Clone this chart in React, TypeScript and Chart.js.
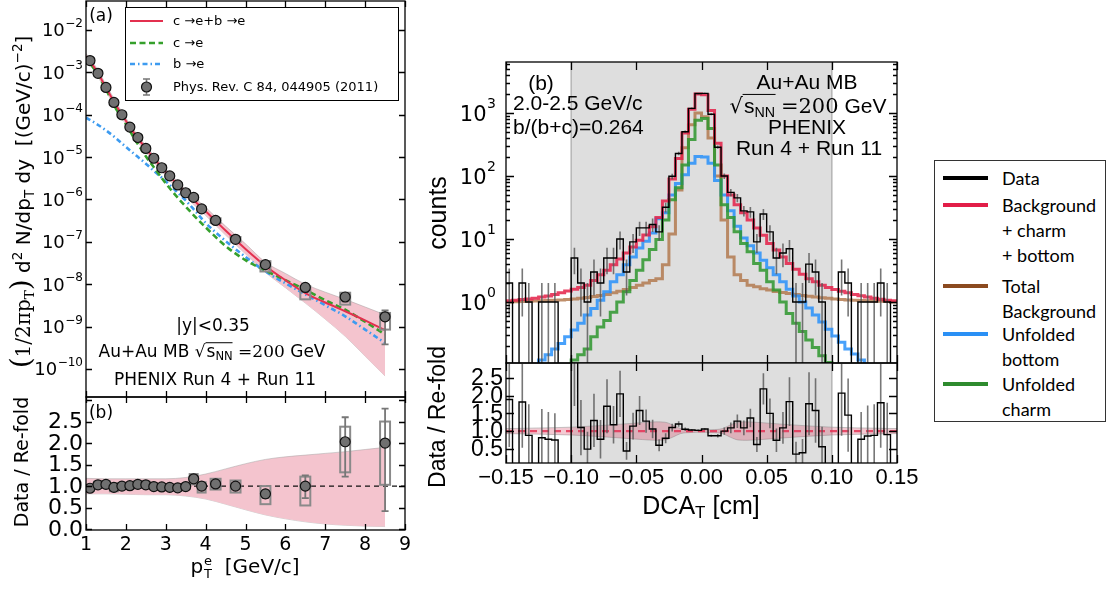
import React, { useEffect, useRef } from 'react';
import { Chart, registerables } from 'chart.js';

Chart.register(...registerables);

const W = 1108;
const H = 590;
const ARIAL = "'Liberation Sans', Arial, Helvetica, sans-serif";
const DEJAVU = "'DejaVu Sans', Verdana, sans-serif";
const DSERIF = "'DejaVu Serif', Georgia, serif";
const LEGEND_FONT = "Lato, 'Open Sans', sans-serif";

// ---------------- Panel (a): heavy-flavour electron yield vs pT ----------------
const PT_CURVE = [1.0, 1.25, 1.5, 1.75, 2.0, 2.25, 2.5, 2.75, 3.0, 3.25, 3.5, 3.75, 4.0, 4.5, 5.0, 5.5, 6.0, 6.5, 7.0, 7.5, 8.0, 8.5];
const CB_TO_E = [2.4e-3, 1.15e-3, 4.4e-4, 1.7e-4, 7.2e-5, 3.2e-5, 1.6e-5, 8.3e-6, 4.5e-6, 2.5e-6, 1.45e-6, 8.7e-7, 5.3e-7, 1.85e-7, 6.8e-8, 2.7e-8, 1.25e-8, 6.2e-9, 3.7e-9, 2.3e-9, 1.4e-9, 8.3e-10];
const C_TO_E = [2.2e-3, 1.05e-3, 4.0e-4, 1.4e-4, 6.0e-5, 2.4e-5, 1.05e-5, 5.0e-6, 2.4e-6, 1.25e-6, 6.8e-7, 3.8e-7, 2.2e-7, 8.0e-8, 3.7e-8, 2.1e-8, 1.25e-8, 7.4e-9, 4.2e-9, 2.5e-9, 1.3e-9, 6.5e-10];
const B_TO_E = [8.5e-5, 6.2e-5, 4.3e-5, 2.8e-5, 1.75e-5, 1.1e-5, 7.0e-6, 4.3e-6, 2.7e-6, 1.6e-6, 9.5e-7, 5.2e-7, 2.8e-7, 1.05e-7, 4.4e-8, 2.0e-8, 1.05e-8, 5.8e-9, 3.2e-9, 1.75e-9, 8.5e-10, 4.1e-10];
const CB_BAND_HI = [2.8e-3, 1.35e-3, 5.2e-4, 2.0e-4, 8.4e-5, 3.75e-5, 1.87e-5, 9.7e-6, 5.3e-6, 2.95e-6, 1.72e-6, 1.05e-6, 6.5e-7, 2.35e-7, 9.0e-8, 3.3e-8, 1.8e-8, 1.0e-8, 6.5e-9, 4.4e-9, 2.9e-9, 1.9e-9];
const CB_BAND_LO = [1.95e-3, 9.5e-4, 3.6e-4, 1.4e-4, 5.9e-5, 2.6e-5, 1.3e-5, 6.7e-6, 3.6e-6, 2.0e-6, 1.15e-6, 6.9e-7, 4.2e-7, 1.45e-7, 5.2e-8, 1.9e-8, 8.3e-9, 3.6e-9, 1.5e-9, 5.9e-10, 2.0e-10, 6.8e-11];

const PT_DATA = [1.1, 1.3, 1.5, 1.7, 1.9, 2.1, 2.3, 2.5, 2.7, 2.9, 3.1, 3.3, 3.5, 3.7, 3.9, 4.25, 4.75, 5.5, 6.5, 7.5, 8.5];
const YIELD = [1.9e-3, 9.5e-4, 4.4e-4, 1.95e-4, 1.0e-4, 5.1e-5, 2.9e-5, 1.6e-5, 9.4e-6, 5.6e-6, 3.6e-6, 2.2e-6, 1.44e-6, 1.12e-6, 6.0e-7, 3.2e-7, 1.15e-7, 2.9e-8, 8.4e-9, 5.0e-9, 1.7e-9];
const YIELD_STAT_LO = [1.85e-3, 9.2e-4, 4.25e-4, 1.88e-4, 9.6e-5, 4.9e-5, 2.78e-5, 1.53e-5, 8.9e-6, 5.3e-6, 3.4e-6, 2.07e-6, 1.35e-6, 1.04e-6, 5.5e-7, 2.95e-7, 1.03e-7, 2.45e-8, 6.5e-9, 3.9e-9, 3.8e-10];
const YIELD_STAT_HI = [1.95e-3, 9.8e-4, 4.55e-4, 2.02e-4, 1.04e-4, 5.3e-5, 3.02e-5, 1.67e-5, 9.9e-6, 5.9e-6, 3.8e-6, 2.33e-6, 1.53e-6, 1.2e-6, 6.5e-7, 3.45e-7, 1.27e-7, 3.35e-8, 1.02e-8, 6.1e-9, 2.4e-9];
const YIELD_SYS_LO = [1.67e-3, 8.4e-4, 3.9e-4, 1.72e-4, 8.8e-5, 4.5e-5, 2.55e-5, 1.41e-5, 8.3e-6, 4.9e-6, 3.2e-6, 1.94e-6, 1.27e-6, 9.9e-7, 5.3e-7, 2.8e-7, 1.0e-7, 2.0e-8, 4.4e-9, 3.3e-9, 8.5e-10];
const YIELD_SYS_HI = [2.13e-3, 1.06e-3, 4.9e-4, 2.18e-4, 1.12e-4, 5.7e-5, 3.25e-5, 1.79e-5, 1.05e-5, 6.3e-6, 4.0e-6, 2.46e-6, 1.61e-6, 1.25e-6, 6.7e-7, 3.6e-7, 1.3e-7, 3.5e-8, 8.9e-9, 6.3e-9, 2.1e-9];

// ---------------- Panel (a)-(b): Data / Re-fold vs pT ----------------
const RATIO_PT = [0.95, 1.03, 1.04, 0.97, 1.0, 1.01, 1.04, 1.03, 0.99, 0.98, 0.97, 0.96, 0.99, 1.17, 1.0, 1.05, 1.0, 0.82, 1.0, 2.03, 2.0];
const RATIO_PT_STAT_LO = [0.92, 1.0, 1.01, 0.94, 0.97, 0.98, 1.01, 1.0, 0.96, 0.95, 0.94, 0.93, 0.96, 1.13, 0.96, 1.0, 0.95, 0.72, 0.72, 1.22, 0.42];
const RATIO_PT_STAT_HI = [0.98, 1.06, 1.07, 1.0, 1.03, 1.04, 1.07, 1.06, 1.02, 1.01, 1.0, 0.99, 1.02, 1.21, 1.04, 1.1, 1.05, 0.9, 1.25, 2.6, 2.8];
const RATIO_PT_SYS_LO = [0.89, 0.96, 0.97, 0.88, 0.93, 0.94, 0.97, 0.96, 0.93, 0.92, 0.91, 0.9, 0.93, 1.04, 0.85, 0.92, 0.85, 0.58, 0.55, 1.32, 1.03];
const RATIO_PT_SYS_HI = [1.01, 1.1, 1.11, 1.06, 1.07, 1.08, 1.11, 1.1, 1.05, 1.04, 1.03, 1.02, 1.05, 1.28, 1.09, 1.17, 1.13, 1.0, 1.22, 2.38, 2.5];
const PT_RBAND = [1.0, 1.5, 2.0, 2.5, 3.0, 3.5, 4.0, 4.5, 5.0, 5.5, 6.0, 6.5, 7.0, 7.5, 8.0, 8.5];
const RBAND_HI = [1.18, 1.17, 1.17, 1.17, 1.17, 1.2, 1.28, 1.4, 1.52, 1.62, 1.68, 1.72, 1.76, 1.8, 1.85, 1.9];
const RBAND_LO = [0.82, 0.82, 0.81, 0.8, 0.8, 0.77, 0.7, 0.58, 0.45, 0.33, 0.24, 0.17, 0.12, 0.09, 0.07, 0.06];
const RATIO_REF = 1.0;

// ---------------- Panel (b): DCA_T distribution, 0.005 cm bins from -0.15 ----------------
const DCA_LOW = -0.15;
const DCA_BIN = 0.005;
const DATA_COUNTS = [2, 0, 2, 1, 0, 1, 1, 1, 0, 0, 5, 2, 1, 3, 2, 5, 5, 10, 3, 9, 15, 15, 17, 13, 32, 99, 228, 504, 1185, 2040, 2050, 957, 287, 100, 55, 45, 28, 27, 9, 25, 13, 5, 6, 7, 1, 1, 4, 3, 1, 0, 0, 3, 2, 0, 1, 1, 1, 2, 1, 0];
const DATA_ERR = [1.41, 0, 1.41, 1, 0, 1, 1, 1, 0, 0, 2.24, 1.41, 1, 1.73, 1.41, 2.24, 2.24, 3.16, 1.73, 3, 3.87, 3.87, 4.12, 3.61, 5.66, 9.95, 15.1, 22.4, 34.4, 45.2, 45.3, 30.9, 16.9, 10, 7.42, 6.71, 5.29, 5.2, 3, 5, 3.61, 2.24, 2.45, 2.65, 1, 1, 2, 1.73, 1, 0, 0, 1.73, 1.41, 0, 1, 1, 1, 1.41, 1, 0];
const FIT_TOTAL = [1.05, 1.07, 1.1, 1.12, 1.15, 1.2, 1.25, 1.32, 1.4, 1.5, 1.6, 1.7, 1.85, 2.2, 2.7, 3.2, 3.9, 4.8, 6.0, 7.5, 9.6, 11.6, 15.7, 22, 40, 90, 190, 480, 1150, 2000, 1950, 1100, 330, 100, 50, 35, 26, 20, 15, 11.5, 8.5, 6.7, 5.2, 4.1, 3.3, 2.75, 2.35, 2.1, 1.85, 1.7, 1.58, 1.48, 1.4, 1.32, 1.26, 1.2, 1.15, 1.11, 1.07, 1.05];
const BKG_TOTAL = [1.0, 1.01, 1.02, 1.03, 1.04, 1.05, 1.06, 1.07, 1.08, 1.1, 1.12, 1.15, 1.18, 1.22, 1.27, 1.32, 1.4, 1.48, 1.58, 1.7, 1.85, 2.0, 2.2, 2.35, 3.9, 12, 60, 280, 650, 1000, 870, 400, 100, 20, 5.2, 2.7, 2.2, 1.85, 1.75, 1.62, 1.55, 1.47, 1.42, 1.37, 1.32, 1.27, 1.23, 1.2, 1.17, 1.15, 1.12, 1.1, 1.08, 1.07, 1.06, 1.05, 1.04, 1.03, 1.02, 1.0];
const BOTTOM_UNF = [0.05, 0.05, 0.05, 0.05, 0.1, 0.12, 0.145, 0.18, 0.22, 0.28, 0.36, 0.46, 0.62, 0.79, 1.07, 1.45, 2.1, 2.7, 3.9, 5.2, 7.2, 9.2, 12.5, 21, 26, 50, 76, 105, 160, 205, 200, 160, 85, 50, 28, 16, 10.4, 7.8, 6.0, 4.6, 3.5, 2.7, 2.1, 1.6, 1.25, 1.0, 0.8, 0.62, 0.48, 0.37, 0.29, 0.23, 0.18, 0.15, 0.12, 0.1, 0.05, 0.05, 0.05, 0.05];
const CHARM_UNF = [0.05, 0.05, 0.05, 0.05, 0.05, 0.05, 0.05, 0.05, 0.05, 0.05, 0.12, 0.145, 0.18, 0.28, 0.4, 0.51, 0.69, 1.0, 1.45, 2.2, 3.2, 4.7, 6.8, 9.8, 20, 42, 65, 150, 380, 770, 820, 570, 150, 35, 22, 13, 8.5, 6.3, 4.1, 3.2, 2.1, 1.55, 1.0, 0.66, 0.46, 0.34, 0.25, 0.19, 0.14, 0.11, 0.05, 0.05, 0.05, 0.05, 0.05, 0.05, 0.05, 0.05, 0.05, 0.05];
const RATIO_DCA = [1.89, 0, 1.82, 0.88, 0, 0.81, 0.77, 0.75, 0, 0, 3.1, 1.1, 0.49, 1.3, 0.77, 1.7, 1.18, 2.05, 0.44, 1.14, 1.58, 1.28, 1.06, 0.6, 0.8, 1.1, 1.2, 1.05, 1.03, 1.02, 1.06, 0.87, 0.87, 1.0, 1.09, 1.28, 1.09, 1.37, 0.62, 2.19, 1.5, 0.74, 1.09, 1.83, 0.35, 0.39, 1.77, 1.58, 0.56, 0, 0, 2.07, 1.45, 0, 0.77, 0.86, 0.88, 1.8, 0.9, 0];
const RATIO_DCA_ERR = [1.34, 0, 1.29, 0.88, 0, 0.81, 0.77, 0.75, 0, 0, 1.39, 0.78, 0.49, 0.75, 0.54, 0.76, 0.53, 0.65, 0.25, 0.38, 0.41, 0.33, 0.26, 0.17, 0.14, 0.11, 0.08, 0.05, 0.03, 0.023, 0.023, 0.028, 0.051, 0.1, 0.15, 0.19, 0.21, 0.26, 0.21, 0.44, 0.42, 0.33, 0.45, 0.69, 0.35, 0.39, 0.89, 0.91, 0.56, 0, 0, 1.2, 1.03, 0, 0.77, 0.86, 0.88, 1.27, 0.9, 0];
const RB_X = [-0.15, -0.12, -0.1, -0.08, -0.06, -0.045, -0.035, -0.028, -0.022, -0.016, -0.008, 0, 0.008, 0.016, 0.022, 0.028, 0.035, 0.045, 0.06, 0.08, 0.1, 0.12, 0.15];
const RB_HI = [1.07, 1.09, 1.11, 1.15, 1.2, 1.24, 1.26, 1.25, 1.17, 1.07, 1.04, 1.03, 1.04, 1.07, 1.17, 1.25, 1.26, 1.24, 1.2, 1.15, 1.11, 1.09, 1.07];
const RB_LO = [0.93, 0.91, 0.89, 0.85, 0.8, 0.76, 0.74, 0.75, 0.83, 0.93, 0.96, 0.97, 0.96, 0.93, 0.83, 0.75, 0.74, 0.76, 0.8, 0.85, 0.89, 0.91, 0.93];
const SHADE_RANGE = [-0.1, 0.1];

// ---------------- ticks ----------------
const LEFT_X_TICKS = [1, 2, 3, 4, 5, 6, 7, 8, 9];
const LEFT_Y_EXP = [-10, -9, -8, -7, -6, -5, -4, -3, -2];
const LEFT_RATIO_TICKS = [0, 0.5, 1.0, 1.5, 2.0, 2.5, 3.0];
const LEFT_RATIO_LABELS = ['0.0', '0.5', '1.0', '1.5', '2.0', '2.5'];
const DCA_TICKS = [-0.15, -0.1, -0.05, 0, 0.05, 0.1, 0.15];
const DCA_TICK_LABELS = ['\u22120.15', '\u22120.10', '\u22120.05', '0.00', '0.05', '0.10', '0.15'];
const COUNT_EXP = [0, 1, 2, 3];
const DCA_RATIO_TICKS = [0.5, 1.0, 1.5, 2.0, 2.5];
const DCA_RATIO_LABELS = ['0.5', '1.0', '1.5', '2.0', '2.5'];

// ---------------- styles ----------------
const COL = {
  cb: '#e3304f',
  c: '#35a02c',
  b: '#3d9bf0',
  marker: '#707070',
  fit: 'rgba(228,32,72,0.85)',
  charm: 'rgba(46,150,46,0.85)',
  bottom: 'rgba(40,145,250,0.85)',
  bkg: 'rgba(175,115,70,0.8)',
};
const AREA_LT = { L: 86, T: 1, R: 405, B: 397 };
const AREA_LB = { L: 86, T: 397, R: 405, B: 530 };
const AREA_RT = { L: 506, T: 62, R: 897, B: 363 };
const AREA_RB = { L: 506, T: 363, R: 897, B: 463 };

const pts = (xs: number[], ys: number[]) => xs.map((x, i) => ({ x, y: ys[i] }));
const DCA_EDGES = Array.from({ length: DATA_COUNTS.length + 1 }, (_, i) => DCA_LOW + i * DCA_BIN);
const DCA_CENTERS = DATA_COUNTS.map((_, i) => DCA_LOW + (i + 0.5) * DCA_BIN);
const steps = (vals: number[], floor: number) => {
  const v = vals.map((y) => (y > 0 ? y : floor));
  return [...v.map((y, i) => ({ x: DCA_EDGES[i], y })), { x: DCA_EDGES[v.length], y: v[v.length - 1] }];
};
const SYS_HALF = (pt: number) => (pt < 4 ? 0.1 : 0.125);

function baseOptions(area: any, x: any, y: any) {
  return {
    animation: false,
    responsive: false,
    devicePixelRatio: 1,
    events: [],
    layout: { autoPadding: false, padding: { left: area.L, top: area.T, right: W - area.R, bottom: H - area.B } },
    plugins: { legend: { display: false }, tooltip: { enabled: false } },
    elements: { point: { radius: 0 }, line: { tension: 0 } },
    scales: {
      x: { display: false, bounds: 'data', ...x },
      y: { display: false, bounds: 'data', ...y },
    },
  };
}

function yPix(scale: any, v: number, a: any) {
  if (scale.type === 'logarithmic' && v <= 0) return a.bottom + 20;
  return scale.getPixelForValue(v);
}

function clipArea(ctx: any, a: any) {
  ctx.beginPath();
  ctx.rect(a.left, a.top, a.right - a.left, a.bottom - a.top);
  ctx.clip();
}

function errorBars(id: string, dsIndex: number, bars: any[], color: string, width: number, cap: number) {
  return {
    id,
    beforeDatasetDraw(chart: any, args: any) {
      if (args.index !== dsIndex) return;
      const { ctx, chartArea: a } = chart;
      const xs = chart.scales.x, ys = chart.scales.y;
      ctx.save();
      clipArea(ctx, a);
      ctx.strokeStyle = color;
      ctx.lineWidth = width;
      ctx.beginPath();
      for (const b of bars) {
        if (b.hi === b.lo) continue;
        const px = xs.getPixelForValue(b.x);
        const p1 = yPix(ys, b.lo, a);
        const p2 = yPix(ys, b.hi, a);
        ctx.moveTo(px, p1);
        ctx.lineTo(px, p2);
        if (cap) {
          ctx.moveTo(px - cap, p1); ctx.lineTo(px + cap, p1);
          ctx.moveTo(px - cap, p2); ctx.lineTo(px + cap, p2);
        }
      }
      ctx.stroke();
      ctx.restore();
    },
  };
}

function sysBoxes(id: string, dsIndex: number, boxes: any[], color: string, width: number) {
  return {
    id,
    beforeDatasetDraw(chart: any, args: any) {
      if (args.index !== dsIndex) return;
      const { ctx, chartArea: a } = chart;
      const xs = chart.scales.x, ys = chart.scales.y;
      ctx.save();
      clipArea(ctx, a);
      ctx.strokeStyle = color;
      ctx.lineWidth = width;
      for (const b of boxes) {
        const x0 = xs.getPixelForValue(b.x0), x1 = xs.getPixelForValue(b.x1);
        const y0 = ys.getPixelForValue(b.hi), y1 = ys.getPixelForValue(b.lo);
        ctx.strokeRect(x0, y0, x1 - x0, y1 - y0);
      }
      ctx.restore();
    },
  };
}

function shadePlugin(id: string) {
  return {
    id,
    beforeDatasetsDraw(chart: any) {
      const { ctx, chartArea: a } = chart;
      const xs = chart.scales.x;
      const x0 = xs.getPixelForValue(SHADE_RANGE[0]);
      const x1 = xs.getPixelForValue(SHADE_RANGE[1]);
      ctx.save();
      ctx.fillStyle = '#dedede';
      ctx.fillRect(x0, a.top, x1 - x0, a.bottom - a.top);
      ctx.strokeStyle = 'rgba(175,175,175,0.9)';
      ctx.lineWidth = 1.5;
      ctx.beginPath();
      ctx.moveTo(x0, a.top); ctx.lineTo(x0, a.bottom);
      ctx.moveTo(x1, a.top); ctx.lineTo(x1, a.bottom);
      ctx.stroke();
      ctx.restore();
    },
  };
}

function framePlugin(o: any) {
  return {
    id: o.id,
    afterDraw(chart: any) {
      const { ctx, chartArea: a } = chart;
      const xs = chart.scales.x, ys = chart.scales.y;
      ctx.save();
      ctx.strokeStyle = '#000';
      ctx.lineWidth = o.lw;
      ctx.beginPath();
      const tick = (vals: number[], len: number, axis: string) => {
        for (const v of vals) {
          if (axis === 'x') {
            if (v < xs.min - 1e-9 || v > xs.max + 1e-9) continue;
            const p = Math.round(xs.getPixelForValue(v)) + 0.5;
            ctx.moveTo(p, a.bottom); ctx.lineTo(p, a.bottom - len);
            ctx.moveTo(p, a.top); ctx.lineTo(p, a.top + len);
          } else {
            if (v < ys.min || v > ys.max) continue;
            const p = Math.round(ys.getPixelForValue(v)) + 0.5;
            ctx.moveTo(a.left, p); ctx.lineTo(a.left + len, p);
            ctx.moveTo(a.right, p); ctx.lineTo(a.right - len, p);
          }
        }
      };
      tick(o.xMajor, o.major, 'x');
      tick(o.yMajor, o.major, 'y');
      if (o.yMinor) tick(o.yMinor, o.minor, 'y');
      ctx.stroke();
      ctx.strokeRect(a.left, a.top, a.right - a.left, a.bottom - a.top);
      ctx.fillStyle = '#000';
      if (o.xLabels) {
        ctx.font = o.xLabels.font;
        ctx.textAlign = 'center';
        ctx.textBaseline = 'middle';
        o.xLabels.values.forEach((v: number, i: number) => ctx.fillText(o.xLabels.text[i], xs.getPixelForValue(v), o.xLabels.y));
      }
      if (o.yLabels) {
        ctx.font = o.yLabels.font;
        ctx.textAlign = 'right';
        ctx.textBaseline = 'middle';
        o.yLabels.values.forEach((v: number, i: number) => ctx.fillText(o.yLabels.text[i], o.yLabels.x, ys.getPixelForValue(v) + 1));
      }
      if (o.pow) {
        const p = o.pow;
        ctx.textAlign = 'right';
        ctx.textBaseline = 'alphabetic';
        for (const e of p.exps) {
          const py = ys.getPixelForValue(Math.pow(10, e));
          const es = e < 0 ? '\u2212' + Math.abs(e) : String(e);
          ctx.font = p.expFont;
          const ew = ctx.measureText(es).width;
          ctx.fillText(es, p.x, py + p.expDy);
          ctx.font = p.baseFont;
          ctx.fillText('10', p.x - ew - 0.5, py + p.baseDy);
        }
      }
      ctx.restore();
    },
  };
}

const yieldLegend = {
  id: 'yieldLegend',
  afterDatasetsDraw(chart: any) {
    const ctx = chart.ctx;
    ctx.save();
    ctx.fillStyle = '#fff';
    ctx.fillRect(125, 7, 273, 93);
    ctx.strokeStyle = '#000';
    ctx.lineWidth = 1;
    ctx.strokeRect(125.5, 7.5, 273, 93);
    const line = (y: number, color: string, w: number, dash: number[]) => {
      ctx.beginPath();
      ctx.setLineDash(dash);
      ctx.strokeStyle = color;
      ctx.lineWidth = w;
      ctx.moveTo(130, y);
      ctx.lineTo(163, y);
      ctx.stroke();
      ctx.setLineDash([]);
    };
    line(21, COL.cb, 2, []);
    line(43, COL.c, 2.6, [6, 3.5]);
    line(64, COL.b, 2.6, [5, 3, 1.5, 3]);
    ctx.strokeStyle = '#777';
    ctx.lineWidth = 1.6;
    ctx.beginPath();
    ctx.moveTo(146.5, 79); ctx.lineTo(146.5, 95);
    ctx.moveTo(143, 79); ctx.lineTo(150, 79);
    ctx.moveTo(143, 95); ctx.lineTo(150, 95);
    ctx.stroke();
    ctx.beginPath();
    ctx.arc(146.5, 87, 5, 0, Math.PI * 2);
    ctx.fillStyle = COL.marker;
    ctx.fill();
    ctx.strokeStyle = '#111';
    ctx.lineWidth = 1.2;
    ctx.stroke();
    ctx.fillStyle = '#000';
    ctx.font = `13px ${DEJAVU}`;
    ctx.textAlign = 'left';
    ctx.textBaseline = 'middle';
    ctx.fillText('c \u2192e+b \u2192e', 173, 22);
    ctx.fillText('c \u2192e', 173, 44);
    ctx.fillText('b \u2192e', 173, 65);
    ctx.fillText('Phys. Rev. C 84, 044905 (2011)', 173, 88);
    ctx.restore();
  },
};

function cfgYield() {
  return {
    type: 'line',
    data: {
      datasets: [
        { data: pts(PT_DATA, YIELD), showLine: false, pointRadius: 5, pointBackgroundColor: COL.marker, pointBorderColor: '#111', pointBorderWidth: 1.2, order: 0 },
        { data: pts(PT_CURVE, CB_TO_E), borderColor: COL.cb, borderWidth: 2, cubicInterpolationMode: 'monotone', order: 1 },
        { data: pts(PT_CURVE, C_TO_E), borderColor: COL.c, borderWidth: 2.6, borderDash: [6, 3.5], cubicInterpolationMode: 'monotone', order: 2 },
        { data: pts(PT_CURVE, B_TO_E), borderColor: COL.b, borderWidth: 2.6, borderDash: [5, 3, 1.5, 3], cubicInterpolationMode: 'monotone', order: 3 },
        { data: pts(PT_CURVE, CB_BAND_HI), borderColor: 'rgba(150,150,150,0.55)', borderWidth: 0.8, backgroundColor: '#f4c4ce', fill: '+1', cubicInterpolationMode: 'monotone', order: 5 },
        { data: pts(PT_CURVE, CB_BAND_LO), borderColor: 'rgba(150,150,150,0.55)', borderWidth: 0.8, fill: false, cubicInterpolationMode: 'monotone', order: 6 },
      ],
    },
    options: baseOptions(AREA_LT, { type: 'linear', min: 1, max: 9 }, { type: 'logarithmic', min: 2.18e-11, max: 0.0483 }),
    plugins: [
      sysBoxes('sysLT', 0, PT_DATA.map((x, i) => ({ x0: x - SYS_HALF(x), x1: x + SYS_HALF(x), lo: YIELD_SYS_LO[i], hi: YIELD_SYS_HI[i] })), '#8a8a8a', 2),
      errorBars('errLT', 0, PT_DATA.map((x, i) => ({ x, lo: YIELD_STAT_LO[i], hi: YIELD_STAT_HI[i] })), '#777', 1.8, 3.5),
      yieldLegend,
      framePlugin({ id: 'frameLT', lw: 1.3, major: 6, xMajor: LEFT_X_TICKS, yMajor: LEFT_Y_EXP.map((e) => Math.pow(10, e)), pow: { exps: LEFT_Y_EXP, baseFont: `18px ${DEJAVU}`, expFont: `12px ${DEJAVU}`, x: 83, baseDy: 6.5, expDy: -3 } }),
    ],
  };
}

function cfgRatioPt() {
  return {
    type: 'line',
    data: {
      datasets: [
        { data: pts(PT_DATA, RATIO_PT), showLine: false, pointRadius: 5, pointBackgroundColor: COL.marker, pointBorderColor: '#111', pointBorderWidth: 1.2, order: 0 },
        { data: [{ x: 1, y: RATIO_REF }, { x: 9, y: RATIO_REF }], borderColor: '#111', borderWidth: 1.1, borderDash: [5, 4], order: 1 },
        { data: pts(PT_RBAND, RBAND_HI), borderColor: 'rgba(160,160,160,0.6)', borderWidth: 0.8, backgroundColor: '#f4c4ce', fill: '+1', cubicInterpolationMode: 'monotone', order: 2 },
        { data: pts(PT_RBAND, RBAND_LO), borderColor: 'rgba(160,160,160,0.6)', borderWidth: 0.8, fill: false, cubicInterpolationMode: 'monotone', order: 3 },
      ],
    },
    options: baseOptions(AREA_LB, { type: 'linear', min: 1, max: 9 }, { type: 'linear', min: -0.02, max: 3.07 }),
    plugins: [
      sysBoxes('sysLB', 0, PT_DATA.map((x, i) => ({ x0: x - SYS_HALF(x), x1: x + SYS_HALF(x), lo: RATIO_PT_SYS_LO[i], hi: RATIO_PT_SYS_HI[i] })), '#8a8a8a', 2),
      errorBars('errLB', 0, PT_DATA.map((x, i) => ({ x, lo: RATIO_PT_STAT_LO[i], hi: RATIO_PT_STAT_HI[i] })), '#777', 1.8, 3.5),
      framePlugin({
        id: 'frameLB', lw: 1.3, major: 6, xMajor: LEFT_X_TICKS, yMajor: LEFT_RATIO_TICKS,
        xLabels: { values: LEFT_X_TICKS, text: LEFT_X_TICKS.map(String), font: `19px ${DEJAVU}`, y: 545 },
        yLabels: { values: LEFT_RATIO_TICKS.slice(0, 6), text: LEFT_RATIO_LABELS, font: `22px ${DEJAVU}`, x: 83 },
      }),
    ],
  };
}

function cfgDca() {
  const minor: number[] = [];
  for (let e = -1; e <= 3; e++) for (let m = 2; m <= 9; m++) minor.push(m * Math.pow(10, e));
  const floor = 1e-3;
  const stepDs = (vals: number[], color: string, width: number, order: number) => ({ data: steps(vals, floor), stepped: true, borderColor: color, borderWidth: width, order });
  return {
    type: 'line',
    data: {
      datasets: [
        stepDs(DATA_COUNTS, '#000', 1.4, 0),
        stepDs(FIT_TOTAL, COL.fit, 3, 1),
        stepDs(CHARM_UNF, COL.charm, 3, 2),
        stepDs(BOTTOM_UNF, COL.bottom, 3, 3),
        stepDs(BKG_TOTAL, COL.bkg, 3, 4),
      ],
    },
    options: baseOptions(AREA_RT, { type: 'linear', min: -0.15, max: 0.15 }, { type: 'logarithmic', min: 0.1076, max: 6457 }),
    plugins: [
      shadePlugin('shadeRT'),
      errorBars('errRT', 0, DCA_CENTERS.map((x, i) => ({ x, lo: DATA_COUNTS[i] - DATA_ERR[i], hi: DATA_COUNTS[i] + DATA_ERR[i] })), 'rgba(85,85,85,0.8)', 1.6, 0),
      framePlugin({ id: 'frameRT', lw: 1.3, major: 8, minor: 4, xMajor: DCA_TICKS, yMajor: COUNT_EXP.map((e) => Math.pow(10, e)), yMinor: minor, pow: { exps: COUNT_EXP, baseFont: `21px ${DEJAVU}`, expFont: `14px ${DEJAVU}`, x: 496, baseDy: 7.5, expDy: -5 } }),
    ],
  };
}

function cfgDcaRatio() {
  return {
    type: 'line',
    data: {
      datasets: [
        { data: steps(RATIO_DCA, -1), stepped: true, borderColor: '#000', borderWidth: 1.4, order: 0 },
        { data: [{ x: -0.15, y: RATIO_REF }, { x: 0.15, y: RATIO_REF }], borderColor: 'rgba(228,50,85,0.85)', borderWidth: 2.2, borderDash: [7, 5], order: 1 },
        { data: pts(RB_X, RB_HI), borderColor: 'rgba(150,150,150,0.55)', borderWidth: 1, backgroundColor: 'rgba(215,60,95,0.28)', fill: '+1', cubicInterpolationMode: 'monotone', order: 2 },
        { data: pts(RB_X, RB_LO), borderColor: 'rgba(150,150,150,0.55)', borderWidth: 1, fill: false, cubicInterpolationMode: 'monotone', order: 3 },
      ],
    },
    options: baseOptions(AREA_RB, { type: 'linear', min: -0.15, max: 0.15 }, { type: 'linear', min: 0.1, max: 2.92 }),
    plugins: [
      shadePlugin('shadeRB'),
      errorBars('errRB', 0, DCA_CENTERS.map((x, i) => ({ x, lo: RATIO_DCA[i] - RATIO_DCA_ERR[i], hi: RATIO_DCA[i] + RATIO_DCA_ERR[i] })), 'rgba(85,85,85,0.8)', 1.6, 0),
      framePlugin({
        id: 'frameRB', lw: 1.3, major: 8, xMajor: DCA_TICKS, yMajor: DCA_RATIO_TICKS,
        xLabels: { values: DCA_TICKS, text: DCA_TICK_LABELS, font: `22px ${ARIAL}`, y: 478 },
        yLabels: { values: DCA_RATIO_TICKS, text: DCA_RATIO_LABELS, font: `23px ${ARIAL}`, x: 503 },
      }),
    ],
  };
}

const SUB: any = { fontSize: '0.68em', verticalAlign: '-0.28em', lineHeight: 0 };
const SUP: any = { fontSize: '0.68em', verticalAlign: '0.55em', lineHeight: 0 };

function Txt({ x, y, size, family = ARIAL, rot = false, align = 'c', children }: any) {
  const tx = align === 'l' ? '0%' : align === 'r' ? '-100%' : '-50%';
  return (
    <div
      style={{
        position: 'absolute', left: x, top: y, fontSize: size, fontFamily: family, lineHeight: 1.15,
        whiteSpace: 'nowrap', transform: `translate(${tx}, -50%)${rot ? ' rotate(-90deg)' : ''}`,
      }}
    >
      {children}
    </div>
  );
}

function Sqrt() {
  return (
    <span>
      <span style={{ fontFamily: DEJAVU }}>{'\u221A'}</span>
      <span style={{ borderTop: '1.3px solid #000', display: 'inline-block', lineHeight: 1.05, paddingLeft: 1 }}>
        s<span style={SUB}>NN</span>
      </span>
    </span>
  );
}

const RIGHT_LEGEND = [
  { lines: ['Data'], color: '#000000', y: 178 },
  { lines: ['Background', '+ charm', '+ bottom'], color: '#e21d48', y: 205 },
  { lines: ['Total', 'Background'], color: '#8b4a1f', y: 286 },
  { lines: ['Unfolded', 'bottom'], color: '#2a90f5', y: 334 },
  { lines: ['Unfolded', 'charm'], color: '#2e8b2e', y: 384 },
];

export default function App() {
  const r1 = useRef<HTMLCanvasElement>(null);
  const r2 = useRef<HTMLCanvasElement>(null);
  const r3 = useRef<HTMLCanvasElement>(null);
  const r4 = useRef<HTMLCanvasElement>(null);

  useEffect(() => {
    const charts: any[] = [];
    charts.push(new Chart(r1.current as any, cfgYield() as any));
    charts.push(new Chart(r2.current as any, cfgRatioPt() as any));
    charts.push(new Chart(r3.current as any, cfgDca() as any));
    charts.push(new Chart(r4.current as any, cfgDcaRatio() as any));
    return () => charts.forEach((c) => c.destroy());
  }, []);

  const cv: any = { position: 'absolute', left: 0, top: 0, width: W, height: H };

  return (
    <div style={{ position: 'absolute', left: 0, top: 0, width: W, height: H, background: '#fff', overflow: 'hidden', color: '#000', fontFamily: ARIAL }}>
      <canvas ref={r1} width={W} height={H} style={cv} />
      <canvas ref={r2} width={W} height={H} style={cv} />
      <canvas ref={r3} width={W} height={H} style={cv} />
      <canvas ref={r4} width={W} height={H} style={cv} />

      {/* left panel texts */}
      <Txt x={21} y={202} size={20} rot family={DEJAVU}>
        <span style={{ fontFamily: DSERIF }}>
          <span style={{ fontSize: '1.4em' }}>(</span>1/2{'\u03C0'}p<span style={SUB}>T</span>
          <span style={{ fontSize: '1.4em' }}>)</span>
        </span>{' '}
        d<span style={SUP}>2</span> N/dp<span style={SUB}>T</span> dy{'\u00A0\u00A0'}[(GeV/c)<span style={SUP}>{'\u22122'}</span>]
      </Txt>
      <Txt x={22} y={462} size={19} rot family={DEJAVU}>Data / Re-fold</Txt>
      <Txt x={245} y={567} size={20} family={DEJAVU}>
        p
        <span style={{ display: 'inline-flex', flexDirection: 'column', fontSize: '0.65em', lineHeight: 1, verticalAlign: 'middle', marginLeft: 1 }}>
          <span>e</span>
          <span>T</span>
        </span>
        {'\u00A0\u00A0'}[GeV/c]
      </Txt>
      <Txt x={101} y={16} size={17} family={DEJAVU}>(a)</Txt>
      <Txt x={101} y={413} size={17} family={DEJAVU}>(b)</Txt>
      <Txt x={213} y={326} size={17} family={DEJAVU}>|y|&lt;0.35</Txt>
      <Txt x={212} y={352} size={17} family={DEJAVU}>
        Au+Au MB <Sqrt /> <span style={{ fontFamily: DSERIF }}>=200</span> GeV
      </Txt>
      <Txt x={215} y={380} size={17} family={DEJAVU}>PHENIX Run 4 + Run 11</Txt>

      {/* right panel texts */}
      <Txt x={541} y={83} size={21}>(b)</Txt>
      <Txt x={513} y={103} size={21} align="l">2.0-2.5 GeV/c</Txt>
      <Txt x={513} y={127} size={21} align="l">b/(b+c)=0.264</Txt>
      <Txt x={807} y={82} size={21}>Au+Au MB</Txt>
      <Txt x={808} y={106} size={21}>
        <Sqrt /> <span style={{ fontFamily: DSERIF }}>=200</span> GeV
      </Txt>
      <Txt x={807} y={127} size={21}>PHENIX</Txt>
      <Txt x={809} y={148} size={21}>Run 4 + Run 11</Txt>
      <Txt x={437} y={213} size={25} rot>counts</Txt>
      <Txt x={437} y={417} size={23} rot>Data / Re-fold</Txt>
      <Txt x={701} y={505} size={25}>
        DCA<span style={SUB}>T</span> [cm]
      </Txt>

      {/* right legend */}
      <div style={{ position: 'absolute', left: 934, top: 160, width: 172, height: 262, border: '1px solid #333', boxSizing: 'border-box', background: '#fff' }} />
      {RIGHT_LEGEND.map((e, i) => (
        <React.Fragment key={i}>
          <div style={{ position: 'absolute', left: 943, top: e.y - 2, width: 45, height: 4, background: e.color }} />
          {e.lines.map((t, k) => (
            <Txt key={k} x={1002} y={e.y + k * 25} size={18} family={LEGEND_FONT} align="l">{t}</Txt>
          ))}
        </React.Fragment>
      ))}
    </div>
  );
}
